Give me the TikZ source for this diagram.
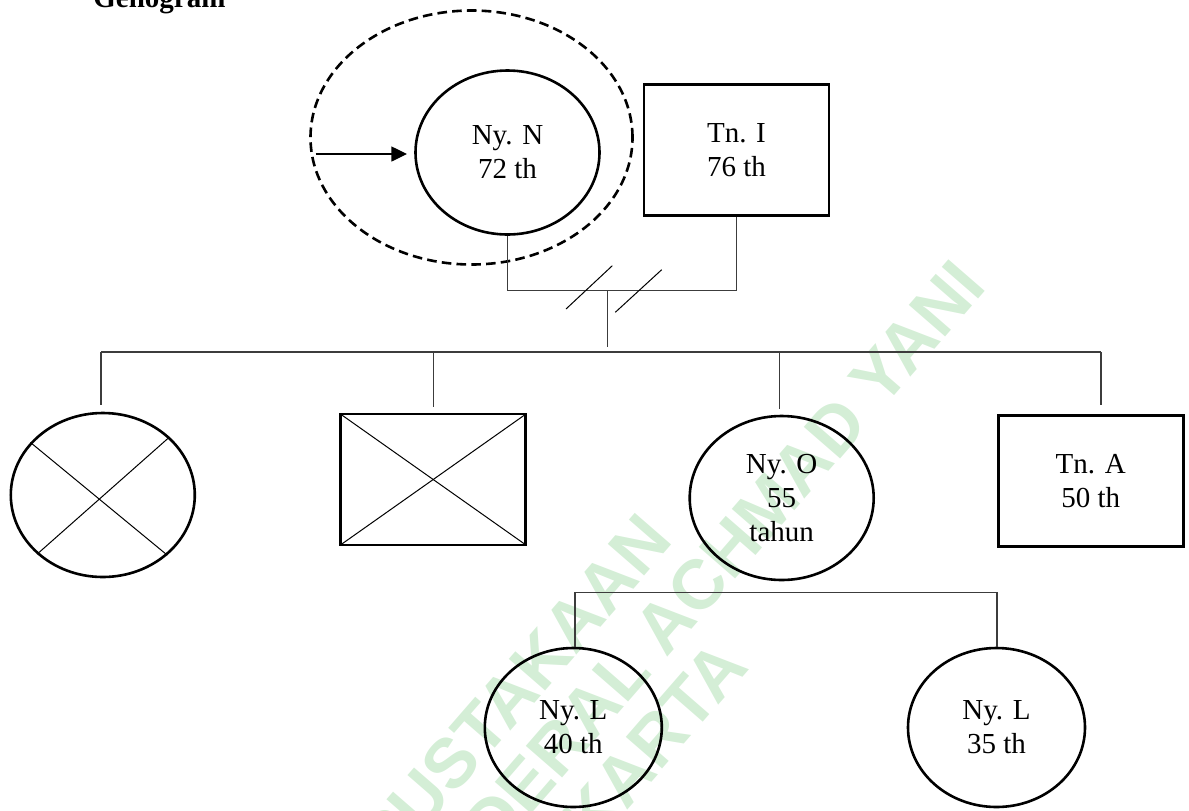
\documentclass[tikz,border=0pt]{standalone}
\usepackage{fontspec}
\setmainfont{Liberation Serif}
\newfontfamily\wmfont{Liberation Sans}
\usetikzlibrary{shapes.geometric,arrows.meta}
\definecolor{wm}{RGB}{212,238,214}
\definecolor{lk}{RGB}{60,60,60}
\begin{document}
\begin{tikzpicture}[x=0.5pt,y=-0.5pt,
  person/.style={draw,line width=1.3pt,inner sep=0pt,align=center,font=\fontsize{14.5}{17}\selectfont},
  fem/.style={person,ellipse,minimum width=92pt,minimum height=82pt},
  male/.style={person,rectangle,minimum width=92.5pt,minimum height=65.5pt},
  kid/.style={person,ellipse,minimum width=88.5pt,minimum height=79.5pt},
  proband/.style={ellipse,draw,line width=1.3pt,dash pattern=on 4.8pt off 2.6pt,minimum width=161pt,minimum height=127pt,inner sep=0pt},
  conn/.style={draw=lk,line width=0.55pt},
  crossline/.style={draw=black,line width=0.5pt},
  pointer/.style={draw=black,line width=0.6pt,-{Triangle[length=7.8pt,width=7.5pt]}},
  watermark/.style={rotate=49,font=\wmfont\bfseries\fontsize{35}{35}\selectfont,text=wm,align=center,inner sep=0pt}
]
\useasboundingbox (0,0) rectangle (1189,810);
\clip (0,0) rectangle (1189,810);

% watermark
\node[watermark] (wmk) at (520,790) {PERPUSTAKAAN\\UNIVERSITAS JENDERAL ACHMAD YANI\\YOGYAKARTA};

% title
\node[anchor=base west,inner sep=0pt,font=\bfseries\fontsize{14.5}{17}\selectfont] (title) at (93,7.3) {Genogram};

% generation 1
\node[proband] (pb) at (471.5,137.5) {};
\node[fem] (nyN) at (507.5,152.5) {Ny. N\\72 th};
\node[male] (tnI) at (736.5,150) {Tn. I\\76 th};

\coordinate (arrS) at (315.7,154);
\draw[pointer] (arrS) -- ([xshift=-3.6pt]arrS -| nyN.west);

\coordinate (cplmid) at (607.7,290.7);
\coordinate (siblingtop) at (607.7,346.7);
\draw[conn] (nyN.south) |- (cplmid) -| (tnI.south);
\draw[conn] (cplmid) -- (siblingtop);

\coordinate (sa1) at (566,309);
\coordinate (sa2) at (612.3,265.7);
\coordinate (sb1) at (615.3,312.3);
\coordinate (sb2) at (661.7,269.7);
\draw[crossline] (sa1) -- (sa2);
\draw[crossline] (sb1) -- (sb2);

% generation 2
\coordinate (sibL) at (101,352);
\coordinate (sibR) at (1101,352);
\draw[conn] (sibL) -- (sibR);

\node[fem] (c1) at (102.8,495) {};
\node[male] (b1) at (433.2,479.5) {};
\node[fem] (nyO) at (781.7,498) {Ny. O\\55\\tahun};
\node[male] (tnA) at (1090.7,481) {Tn. A\\50 th};

\coordinate (d2) at (433.6,352);
\coordinate (d3) at (779.6,352);
\draw[conn] (sibL) -- ([yshift=3.5pt]sibL |- c1.north);
\draw[conn] (d2) -- ([yshift=3pt]d2 |- b1.north);
\draw[conn] (d3) -- ([yshift=3pt]d3 |- nyO.north);
\draw[conn] (sibR) -- ([yshift=4.5pt]sibR |- tnA.north);

\draw[crossline] (c1.144) -- (c1.-43);
\draw[crossline] (c1.-138) -- (c1.41);
\draw[crossline] ([shift={(1pt,-1pt)}]b1.north west) -- ([shift={(-1pt,1pt)}]b1.south east);
\draw[crossline] ([shift={(1pt,1pt)}]b1.south west) -- ([shift={(-1pt,-1pt)}]b1.north east);

% generation 3
\coordinate (chL) at (575,592.3);
\coordinate (chR) at (997,592.3);
\node[kid] (nyL1) at (573.3,727.5) {Ny. L\\40 th};
\node[kid] (nyL2) at (996.5,727.5) {Ny. L\\35 th};
\draw[conn] (chL |- nyL1.north) -- (chL) -- (chR) -- (chR |- nyL2.north);
\end{tikzpicture}
\end{document}
